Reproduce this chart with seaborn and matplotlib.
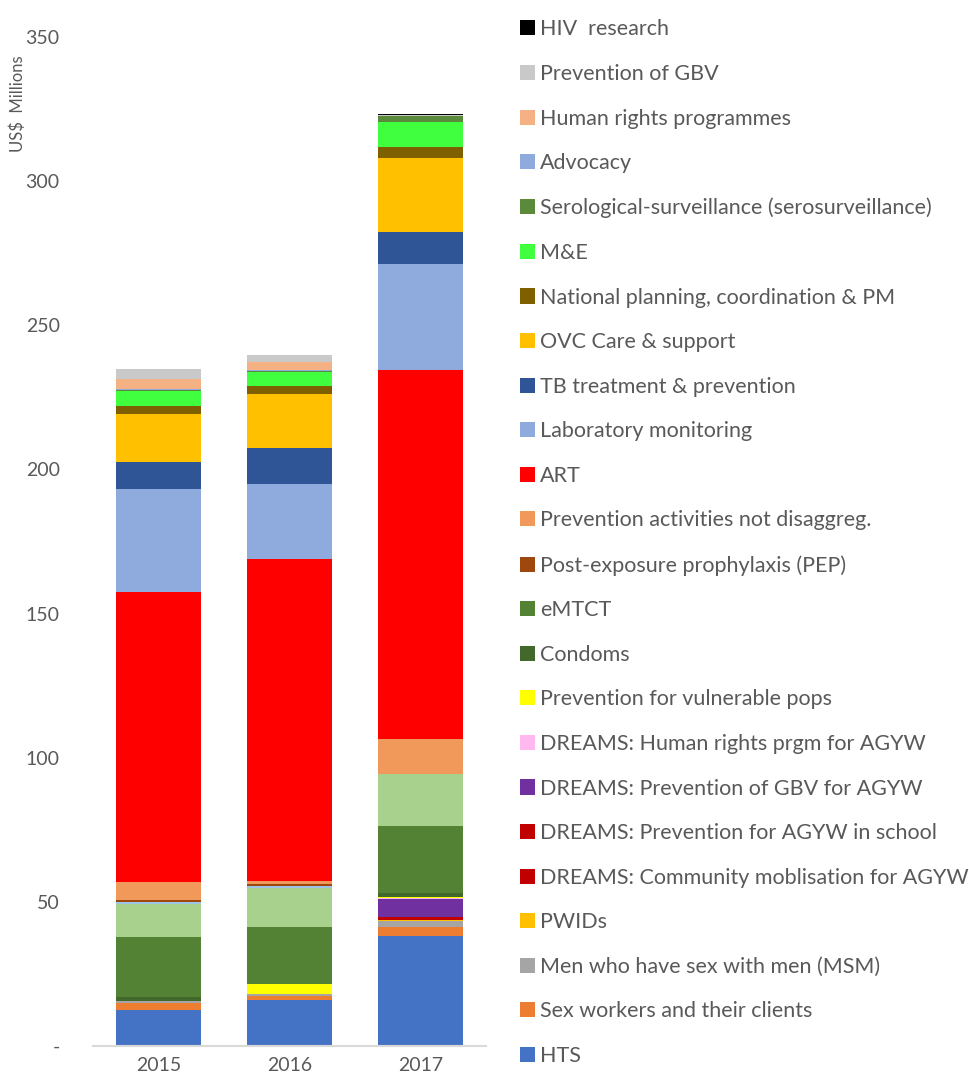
import matplotlib
matplotlib.use("Agg")
import matplotlib.pyplot as plt
import seaborn as sns
import pandas as pd
import numpy as np
from matplotlib.patches import Patch

sns.set_style("white")
plt.rcParams["font.family"] = ["Lato", "DejaVu Sans"]

years = ["2015", "2016", "2017"]

# Series in stacking order (bottom -> top)
hts              = [12.5, 16.0, 38.0]
sex_workers      = [2.4, 1.4, 3.4]
msm              = [0.6, 0.5, 2.1]
pwids            = [0.1, 0.1, 0.3]
dreams_community = [0.0, 0.0, 0.5]
dreams_school    = [0.0, 0.0, 0.4]
dreams_gbv       = [0.0, 0.0, 6.2]
dreams_hr        = [0.0, 0.0, 0.5]
prev_vulnerable  = [0.1, 3.4, 0.2]
condoms          = [1.2, 0.2, 1.3]
emtct            = [21.0, 19.8, 23.4]
unlisted_green   = [11.4, 13.3, 18.0]
unlisted_blue    = [0.8, 0.8, 0.0]
pep              = [0.5, 0.8, 0.0]
prev_not_disagg  = [6.2, 0.8, 12.3]
art              = [100.8, 111.7, 127.8]
lab_monitoring   = [35.5, 26.3, 36.9]
tb               = [9.6, 12.5, 11.1]
ovc              = [16.6, 18.7, 25.6]
national_plan    = [2.7, 2.6, 3.9]
m_and_e          = [5.1, 5.0, 8.7]
serosurveillance = [0.4, 0.4, 2.1]
advocacy         = [0.5, 0.1, 0.0]
human_rights     = [3.3, 3.0, 0.0]
prevention_gbv   = [3.5, 2.2, 0.2]
hiv_research     = [0.0, 0.0, 0.5]

series = [
    ("HTS", hts, "#4472C4"),
    ("Sex workers and their clients", sex_workers, "#ED7D31"),
    ("Men who have sex with men (MSM)", msm, "#A5A5A5"),
    ("PWIDs", pwids, "#FFC000"),
    ("DREAMS: Community moblisation for AGYW", dreams_community, "#C00000"),
    ("DREAMS: Prevention for AGYW in school", dreams_school, "#C00000"),
    ("DREAMS: Prevention of GBV for AGYW", dreams_gbv, "#7030A0"),
    ("DREAMS: Human rights prgm for AGYW", dreams_hr, "#FFB9EE"),
    ("Prevention for vulnerable pops", prev_vulnerable, "#FFFF00"),
    ("Condoms", condoms, "#43682B"),
    ("eMTCT", emtct, "#548235"),
    (None, unlisted_green, "#A9D18E"),
    (None, unlisted_blue, "#9DC3E6"),
    ("Post-exposure prophylaxis (PEP)", pep, "#9E480E"),
    ("Prevention activities not disaggreg.", prev_not_disagg, "#F1995B"),
    ("ART", art, "#FF0000"),
    ("Laboratory monitoring", lab_monitoring, "#8FAADC"),
    ("TB treatment & prevention", tb, "#2F5597"),
    ("OVC Care & support", ovc, "#FFC000"),
    ("National planning, coordination & PM", national_plan, "#7F6000"),
    ("M&E", m_and_e, "#3FFF3F"),
    ("Serological-surveillance (serosurveillance)", serosurveillance, "#5B8A3C"),
    ("Advocacy", advocacy, "#8FAADC"),
    ("Human rights programmes", human_rights, "#F4B183"),
    ("Prevention of GBV", prevention_gbv, "#C9C9C9"),
    ("HIV  research", hiv_research, "#000000"),
]

text_color = "#595959"

fig = plt.figure(figsize=(9.7, 10.79), dpi=100)
ax = fig.add_axes([0.0959, 0.0306, 0.405, 0.935])

cum = np.zeros(len(years))
cums = []
for name, vals, col in series:
    cum = cum + np.array(vals)
    cums.append(cum.copy())

# draw from top series down so lower cumulative bars overlay higher ones
for (name, vals, col), c in reversed(list(zip(series, cums))):
    df = pd.DataFrame({"year": years, "value": c})
    sns.barplot(data=df, x="year", y="value", order=years, color=col,
                saturation=1, width=0.65, ax=ax, linewidth=0, errorbar=None)

ax.set_xlim(-0.5, 2.5)
ax.set_ylim(0, 350)
ax.set_yticks(np.arange(0, 351, 50))
ax.set_yticklabels(["-"] + [str(v) for v in range(50, 351, 50)])
ax.tick_params(axis="y", length=0, pad=24, labelsize=14, labelcolor=text_color)
ax.tick_params(axis="x", length=0, pad=8, labelsize=14, labelcolor=text_color)
ax.set_xlabel("")
ax.set_ylabel("US$  Millions", fontsize=12, color=text_color)
ax.yaxis.set_label_coords(-0.17, 0.934)
for s in ["top", "right", "left"]:
    ax.spines[s].set_visible(False)
ax.spines["bottom"].set_color("#D9D9D9")
ax.spines["bottom"].set_linewidth(1.5)
ax.grid(False)

handles = []
labels = []
for name, vals, col in reversed(series):
    if name is None:
        continue
    handles.append(Patch(facecolor=col, edgecolor="none"))
    labels.append(name)

fig.legend(handles, labels, loc="upper left", bbox_to_anchor=(0.536, 0.982),
           frameon=False, fontsize=15.5, labelcolor=text_color,
           handlelength=0.7, handleheight=0.7, handletextpad=0.25,
           labelspacing=1.142, borderaxespad=0, borderpad=0)

fig.savefig("out.png", dpi=100)
